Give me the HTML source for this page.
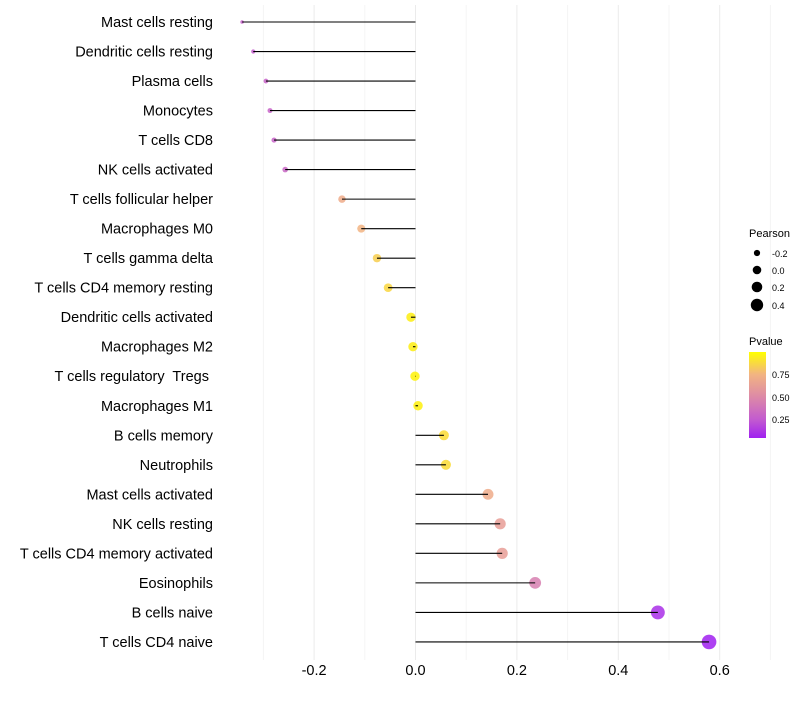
<!DOCTYPE html>
<html><head><meta charset="utf-8"><style>
body{margin:0;background:#fff;font-family:"Liberation Sans",sans-serif}
text{white-space:pre}
</style></head><body>
<svg id="c" width="800" height="700" xmlns="http://www.w3.org/2000/svg">
<defs><linearGradient id="pg" x1="0" y1="1" x2="0" y2="0">
<stop offset="0" stop-color="#a020f0"/><stop offset="0.21" stop-color="#c25ad0"/><stop offset="0.47" stop-color="#dc88a8"/><stop offset="0.74" stop-color="#f2b482"/><stop offset="1" stop-color="#ffff00"/></linearGradient></defs>
<g id="grid"></g><g id="pts"></g><g id="segs"></g><g id="labels"></g><g id="xt"></g>
<g font-size="10" fill="#000">
<text x="749" y="237" font-size="11">Pearson</text>
<circle cx="757" cy="253" r="3.1"/><text x="772" y="257" font-size="9">-0.2</text>
<circle cx="757" cy="270" r="4.3"/><text x="772" y="274" font-size="9">0.0</text>
<circle cx="757" cy="287" r="5.3"/><text x="772" y="291" font-size="9">0.2</text>
<circle cx="757" cy="305" r="6.2"/><text x="772" y="309" font-size="9">0.4</text>
<text x="749" y="345" font-size="11">Pvalue</text>
<rect x="749" y="352" width="17" height="86" fill="url(#pg)"/>
<text x="772" y="378" font-size="9">0.75</text><text x="772" y="401" font-size="9">0.50</text><text x="772" y="423" font-size="9">0.25</text>
</g>
</svg>
<script>
const categories=["Mast cells resting","Dendritic cells resting","Plasma cells","Monocytes","T cells CD8","NK cells activated","T cells follicular helper","Macrophages M0","T cells gamma delta","T cells CD4 memory resting","Dendritic cells activated","Macrophages M2","T cells regulatory  Tregs ","Macrophages M1","B cells memory","Neutrophils","Mast cells activated","NK cells resting","T cells CD4 memory activated","Eosinophils","B cells naive","T cells CD4 naive"];
const pearson=[-0.342,-0.32,-0.295,-0.287,-0.279,-0.257,-0.145,-0.107,-0.076,-0.054,-0.009,-0.005,-0.001,0.005,0.056,0.06,0.143,0.167,0.171,0.236,0.478,0.579];
const pvalues=[0.28,0.26,0.3,0.3,0.3,0.32,0.7,0.75,0.85,0.88,0.97,0.97,0.99,0.98,0.9,0.9,0.7,0.62,0.62,0.45,0.1,0.05];
const xticks=[-0.2,0,0.2,0.4,0.6];
const svg=document.getElementById('c');const NS="http://www.w3.org/2000/svg";
const X=v=>415.5+v*507, Y=i=>22+i*29.52;
function mk(t,a,p){const e=document.createElementNS(NS,t);for(const k in a)e.setAttribute(k,a[k]);document.getElementById(p).appendChild(e);return e;}
const stops=[[0.05,[160,32,240]],[0.25,[194,90,208]],[0.5,[220,136,168]],[0.75,[242,180,130]],[1,[255,245,0]]];
function col(p){if(p<=stops[0][0])return`rgb(${stops[0][1]})`;for(let i=1;i<stops.length;i++){if(p<=stops[i][0]){const[a,c1]=stops[i-1],[b,c2]=stops[i];const t=(p-a)/(b-a);return`rgb(${c1.map((c,j)=>Math.round(c+(c2[j]-c)*t))})`;}}return`rgb(${stops[4][1]})`;}
for(let v=-0.3;v<=0.7;v+=0.1){const g=mk('line',{x1:X(v),x2:X(v),y1:5,y2:660,stroke:Math.abs(Math.round(v*10))%2===0?'#ebebeb':'#f4f4f4','stroke-width':1},'grid');

}
xticks.forEach(t=>{const e=mk('text',{x:X(t),y:675,'text-anchor':'middle','font-size':14.5,fill:'#000'},'xt');e.textContent=t.toFixed(1);

});
categories.forEach((c,i)=>{const y=Y(i);
const l=mk('text',{x:213,y:y+5,'text-anchor':'end','font-size':14.5,fill:'#000'},'labels');l.textContent=c;


const r=Math.sqrt(Math.max(2,22+55*pearson[i]));
const p=mk('circle',{cx:X(pearson[i]),cy:y,r:r,fill:col(pvalues[i]),'fill-opacity':0.85},'pts');


const s=mk('line',{x1:X(0),x2:X(pearson[i]),y1:y,y2:y,stroke:'#000','stroke-width':1.1},'segs');

});
</script>
</body></html>
